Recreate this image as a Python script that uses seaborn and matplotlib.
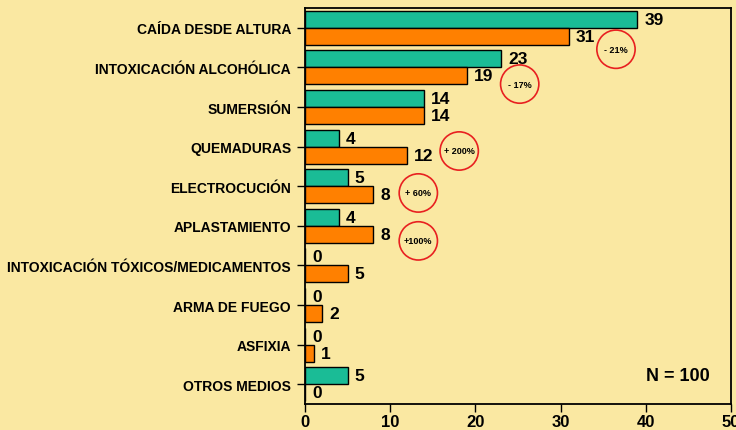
import pandas as pd
import matplotlib.pyplot as plt
import seaborn as sns

# data
categories = ['CAÍDA DESDE ALTURA', 'INTOXICACIÓN ALCOHÓLICA', 'SUMERSIÓN', 'QUEMADURAS',
              'ELECTROCUCIÓN', 'APLASTAMIENTO', 'INTOXICACIÓN TÓXICOS/MEDICAMENTOS',
              'ARMA DE FUEGO', 'ASFIXIA', 'OTROS MEDIOS']
periodo_1 = [39, 23, 14, 4, 5, 4, 0, 0, 0, 5]
periodo_2 = [31, 19, 14, 12, 8, 8, 5, 2, 1, 0]
series_names = ['Periodo 1', 'Periodo 2']
change_labels = ['- 21%', '- 17%', '+ 200%', '+ 60%', '+100%']
change_x = [36.5, 25.2, 18.1, 13.3, 13.3]
change_y = [0.54, 1.42, 3.11, 4.17, 5.38]
x_ticks = [0, 10, 20, 30, 40, 50]

bg = '#FAE8A2'
colors = ['#1ABC96', '#FF8000']

df = pd.DataFrame({
    'causa': categories * 2,
    'valor': periodo_1 + periodo_2,
    'serie': [series_names[0]] * len(categories) + [series_names[1]] * len(categories),
})

sns.set_style('white')
plt.rcParams['font.family'] = ['Liberation Sans', 'DejaVu Sans']
plt.rcParams['font.weight'] = 'bold'
plt.rcParams['text.color'] = 'black'
plt.rcParams['xtick.color'] = 'black'
plt.rcParams['ytick.color'] = 'black'

fig = plt.figure(figsize=(7.36, 4.31), dpi=100, facecolor=bg)
ax = fig.add_axes([0.4144, 0.0603, 0.5788, 0.9187])
ax.set_facecolor(bg)

sns.barplot(data=df, y='causa', x='valor', hue='serie', order=categories,
            hue_order=series_names, palette=colors, saturation=1, orient='h',
            width=0.86, edgecolor='black', linewidth=1, legend=False, ax=ax)

# value labels
for container in ax.containers:
    ax.bar_label(container, padding=5, fontsize=12.5, fontweight='bold', color='black')

# percent-change markers
ax.scatter(change_x, change_y, s=760, facecolors='none', edgecolors='#E82020',
           linewidths=1.2, zorder=5, clip_on=False)
for lbl, cx, cy in zip(change_labels, change_x, change_y):
    ax.text(cx, cy, lbl, ha='center', va='center', fontsize=6.5, fontweight='bold')

ax.text(0.951, 0.071, 'N = 100', transform=ax.transAxes, ha='right', va='center',
        fontsize=13, fontweight='bold')

ax.set_xlim(0, 50)
ax.set_ylim(9.5, -0.5)
ax.set_xticks(x_ticks)
ax.set_xlabel('')
ax.set_ylabel('')
ax.tick_params(axis='both', direction='out', length=6, width=1, color='black',
               labelsize=10, pad=4, left=True, bottom=True, labelcolor='black')
ax.tick_params(axis='x', labelsize=12, pad=1.5)
for lab in ax.get_xticklabels() + ax.get_yticklabels():
    lab.set_fontweight('bold')
for sp in ax.spines.values():
    sp.set_visible(True)
    sp.set_color('black')
    sp.set_linewidth(1.3)

fig.savefig('out.png', dpi=100, facecolor=bg)
